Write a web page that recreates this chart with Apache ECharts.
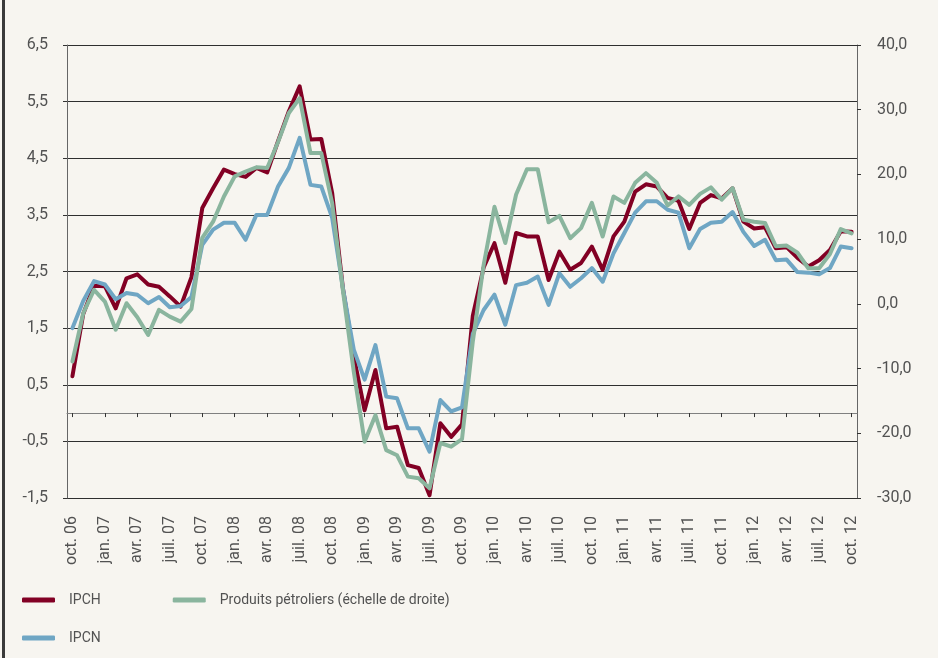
<!DOCTYPE html>
<html lang="fr">
<head>
<meta charset="utf-8">
<title>IPCH, IPCN et produits pétroliers</title>
<script src="https://cdn.jsdelivr.net/npm/echarts@6.0.0/dist/echarts.min.js"></script>
<style>
  html, body { margin: 0; padding: 0; background: #f7f5f0; }
  #chart { width: 938px; height: 658px; }
  .frame { position: absolute; left: 2px; top: 0; width: 3px; height: 658px; background: #3a3a3a; }
</style>
</head>
<body>
<div id="chart"></div>
<div class="frame"></div>
<script>
// mois, d'octobre 2006 à octobre 2012
var months = [
  'oct. 06', 'nov. 06', 'déc. 06',
  'jan. 07', 'févr. 07', 'mars 07', 'avr. 07', 'mai 07', 'juin 07', 'juil. 07', 'août 07', 'sept. 07', 'oct. 07', 'nov. 07', 'déc. 07',
  'jan. 08', 'févr. 08', 'mars 08', 'avr. 08', 'mai 08', 'juin 08', 'juil. 08', 'août 08', 'sept. 08', 'oct. 08', 'nov. 08', 'déc. 08',
  'jan. 09', 'févr. 09', 'mars 09', 'avr. 09', 'mai 09', 'juin 09', 'juil. 09', 'août 09', 'sept. 09', 'oct. 09', 'nov. 09', 'déc. 09',
  'jan. 10', 'févr. 10', 'mars 10', 'avr. 10', 'mai 10', 'juin 10', 'juil. 10', 'août 10', 'sept. 10', 'oct. 10', 'nov. 10', 'déc. 10',
  'jan. 11', 'févr. 11', 'mars 11', 'avr. 11', 'mai 11', 'juin 11', 'juil. 11', 'août 11', 'sept. 11', 'oct. 11', 'nov. 11', 'déc. 11',
  'jan. 12', 'févr. 12', 'mars 12', 'avr. 12', 'mai 12', 'juin 12', 'juil. 12', 'août 12', 'sept. 12', 'oct. 12'
]

// IPCH (échelle de gauche)
var ipch = [
  0.65, 1.75, 2.25,
  2.24, 1.85, 2.38, 2.45, 2.27, 2.23, 2.06, 1.88, 2.40, 3.62, 3.97, 4.30,
  4.22, 4.17, 4.33, 4.25, 4.80, 5.33, 5.77, 4.83, 4.84, 3.89, 2.20, 1.00,
  0.05, 0.76, -0.27, -0.24, -0.92, -0.97, -1.45, -0.18, -0.42, -0.20, 1.72, 2.57,
  3.00, 2.30, 3.18, 3.12, 3.12, 2.35, 2.85, 2.53, 2.65, 2.94, 2.53, 3.12,
  3.38, 3.91, 4.04, 4.00, 3.80, 3.75, 3.25, 3.71, 3.85, 3.79, 3.97, 3.38,
  3.26, 3.28, 2.91, 2.93, 2.74, 2.59, 2.70, 2.88, 3.21, 3.20
]

// IPCN (échelle de gauche)
var ipcn = [
  1.50, 1.98, 2.33,
  2.27, 2.01, 2.12, 2.09, 1.94, 2.05, 1.87, 1.89, 2.05, 2.97, 3.24, 3.36,
  3.36, 3.06, 3.50, 3.50, 4.00, 4.33, 4.86, 4.03, 4.00, 3.45, 2.20, 1.12,
  0.59, 1.20, 0.29, 0.26, -0.27, -0.27, -0.68, 0.23, 0.03, 0.10, 1.40, 1.82,
  2.09, 1.56, 2.26, 2.30, 2.41, 1.91, 2.47, 2.23, 2.38, 2.56, 2.32, 2.82,
  3.18, 3.54, 3.74, 3.74, 3.59, 3.54, 2.91, 3.25, 3.36, 3.38, 3.55, 3.20,
  2.95, 3.06, 2.70, 2.71, 2.49, 2.48, 2.45, 2.56, 2.94, 2.91
]

// Produits pétroliers (échelle de droite)
var petrole = [
  -8.9, -1.45, 2.16,
  0.35, -4.0, 0.1, -2.06, -4.8, -0.93, -1.97, -2.74, -0.8, 10.2, 12.7, 16.6,
  19.7, 20.45, 21.1, 21.0, 25.0, 29.5, 31.8, 23.3, 23.3, 15.6, 2.0, -10.5,
  -21.3, -17.2, -22.6, -23.4, -26.7, -26.96, -28.5, -21.5, -22.07, -20.9, -5.8, 6.0,
  15.0, 9.4, 16.9, 20.8, 20.8, 12.6, 13.6, 10.15, 11.7, 15.6, 10.4, 16.6,
  15.6, 18.7, 20.2, 18.7, 15.2, 16.6, 15.3, 17.0, 18.0, 16.1, 17.9, 13.0,
  12.7, 12.5, 8.9, 9.0, 7.9, 5.5, 5.5, 7.7, 11.55, 10.9
]

var seriesNames = ['IPCH', 'Produits pétroliers (échelle de droite)', 'IPCN']

var fontFamily = 'Roboto'
var textColor = '#525252'

function virgule (v) {
  return v.toFixed(1).replace('.', ',')
}

var chart = echarts.init(document.getElementById('chart'))
chart.setOption({
  backgroundColor: '#f7f5f0',
  animation: false,
  grid: {
    left: 67,
    right: 81,
    top: 45,
    bottom: 160
  },
  legend: [
    {
      data: [seriesNames[0], seriesNames[1]],
      left: 22,
      top: 593,
      padding: 0,
      icon: 'roundRect',
      itemWidth: 33,
      itemHeight: 5,
      itemGap: 72,
      selectedMode: false,
      textStyle: { fontFamily: fontFamily, fontSize: 14, color: textColor, padding: [0, 0, 0, 9] }
    },
    {
      data: [seriesNames[2]],
      left: 22,
      top: 631,
      padding: 0,
      icon: 'roundRect',
      itemWidth: 33,
      itemHeight: 5,
      selectedMode: false,
      textStyle: { fontFamily: fontFamily, fontSize: 14, color: textColor, padding: [0, 0, 0, 9] }
    }
  ],
  xAxis: [
    {
      // axe au niveau de zéro, avec les graduations
      type: 'category',
      data: months,
      position: 'bottom',
      axisLine: { onZero: true, lineStyle: { color: '#808080', width: 1 } },
      axisTick: { show: true, alignWithLabel: true, interval: 2, length: 4, lineStyle: { color: '#333' } },
      axisLabel: { show: false },
      splitLine: { show: false }
    },
    {
      // étiquettes en bas du graphique
      type: 'category',
      data: months,
      position: 'bottom',
      axisLine: { show: false, onZero: false },
      axisTick: { show: false },
      axisLabel: {
        interval: 2,
        rotate: 90,
        margin: 18,
        fontFamily: fontFamily,
        fontSize: 16,
        color: textColor
      },
      splitLine: { show: false }
    }
  ],
  yAxis: [
    {
      type: 'value',
      min: -1.5,
      max: 6.5,
      interval: 1,
      position: 'left',
      axisLine: { show: true, lineStyle: { color: '#666' } },
      axisTick: { show: true, length: 4, lineStyle: { color: '#333' } },
      axisLabel: { formatter: virgule, margin: 19, fontFamily: fontFamily, fontSize: 16, color: textColor },
      splitLine: { show: true, lineStyle: { color: '#2f2f2f', width: 1 } }
    },
    {
      type: 'value',
      min: -30,
      max: 40,
      interval: 10,
      position: 'right',
      axisLine: { show: true, lineStyle: { color: '#666' } },
      axisTick: { show: true, length: 4, lineStyle: { color: '#333' } },
      axisLabel: { formatter: virgule, margin: 20, fontFamily: fontFamily, fontSize: 16, color: textColor },
      splitLine: { show: false }
    }
  ],
  series: [
    {
      name: seriesNames[0],
      type: 'line',
      data: ipch,
      xAxisIndex: 0,
      yAxisIndex: 0,
      symbol: 'none',
      z: 2,
      itemStyle: { color: '#820024' },
      lineStyle: { width: 4, color: '#820024', join: 'round', cap: 'round' }
    },
    {
      name: seriesNames[2],
      type: 'line',
      data: ipcn,
      xAxisIndex: 0,
      yAxisIndex: 0,
      symbol: 'none',
      z: 3,
      itemStyle: { color: '#6fa6c4' },
      lineStyle: { width: 4, color: '#6fa6c4', join: 'round', cap: 'round' }
    },
    {
      name: seriesNames[1],
      type: 'line',
      data: petrole,
      xAxisIndex: 0,
      yAxisIndex: 1,
      symbol: 'none',
      z: 4,
      itemStyle: { color: '#8ab59e' },
      lineStyle: { width: 4, color: '#8ab59e', join: 'round', cap: 'round' }
    }
  ]
})
</script>
</body>
</html>
